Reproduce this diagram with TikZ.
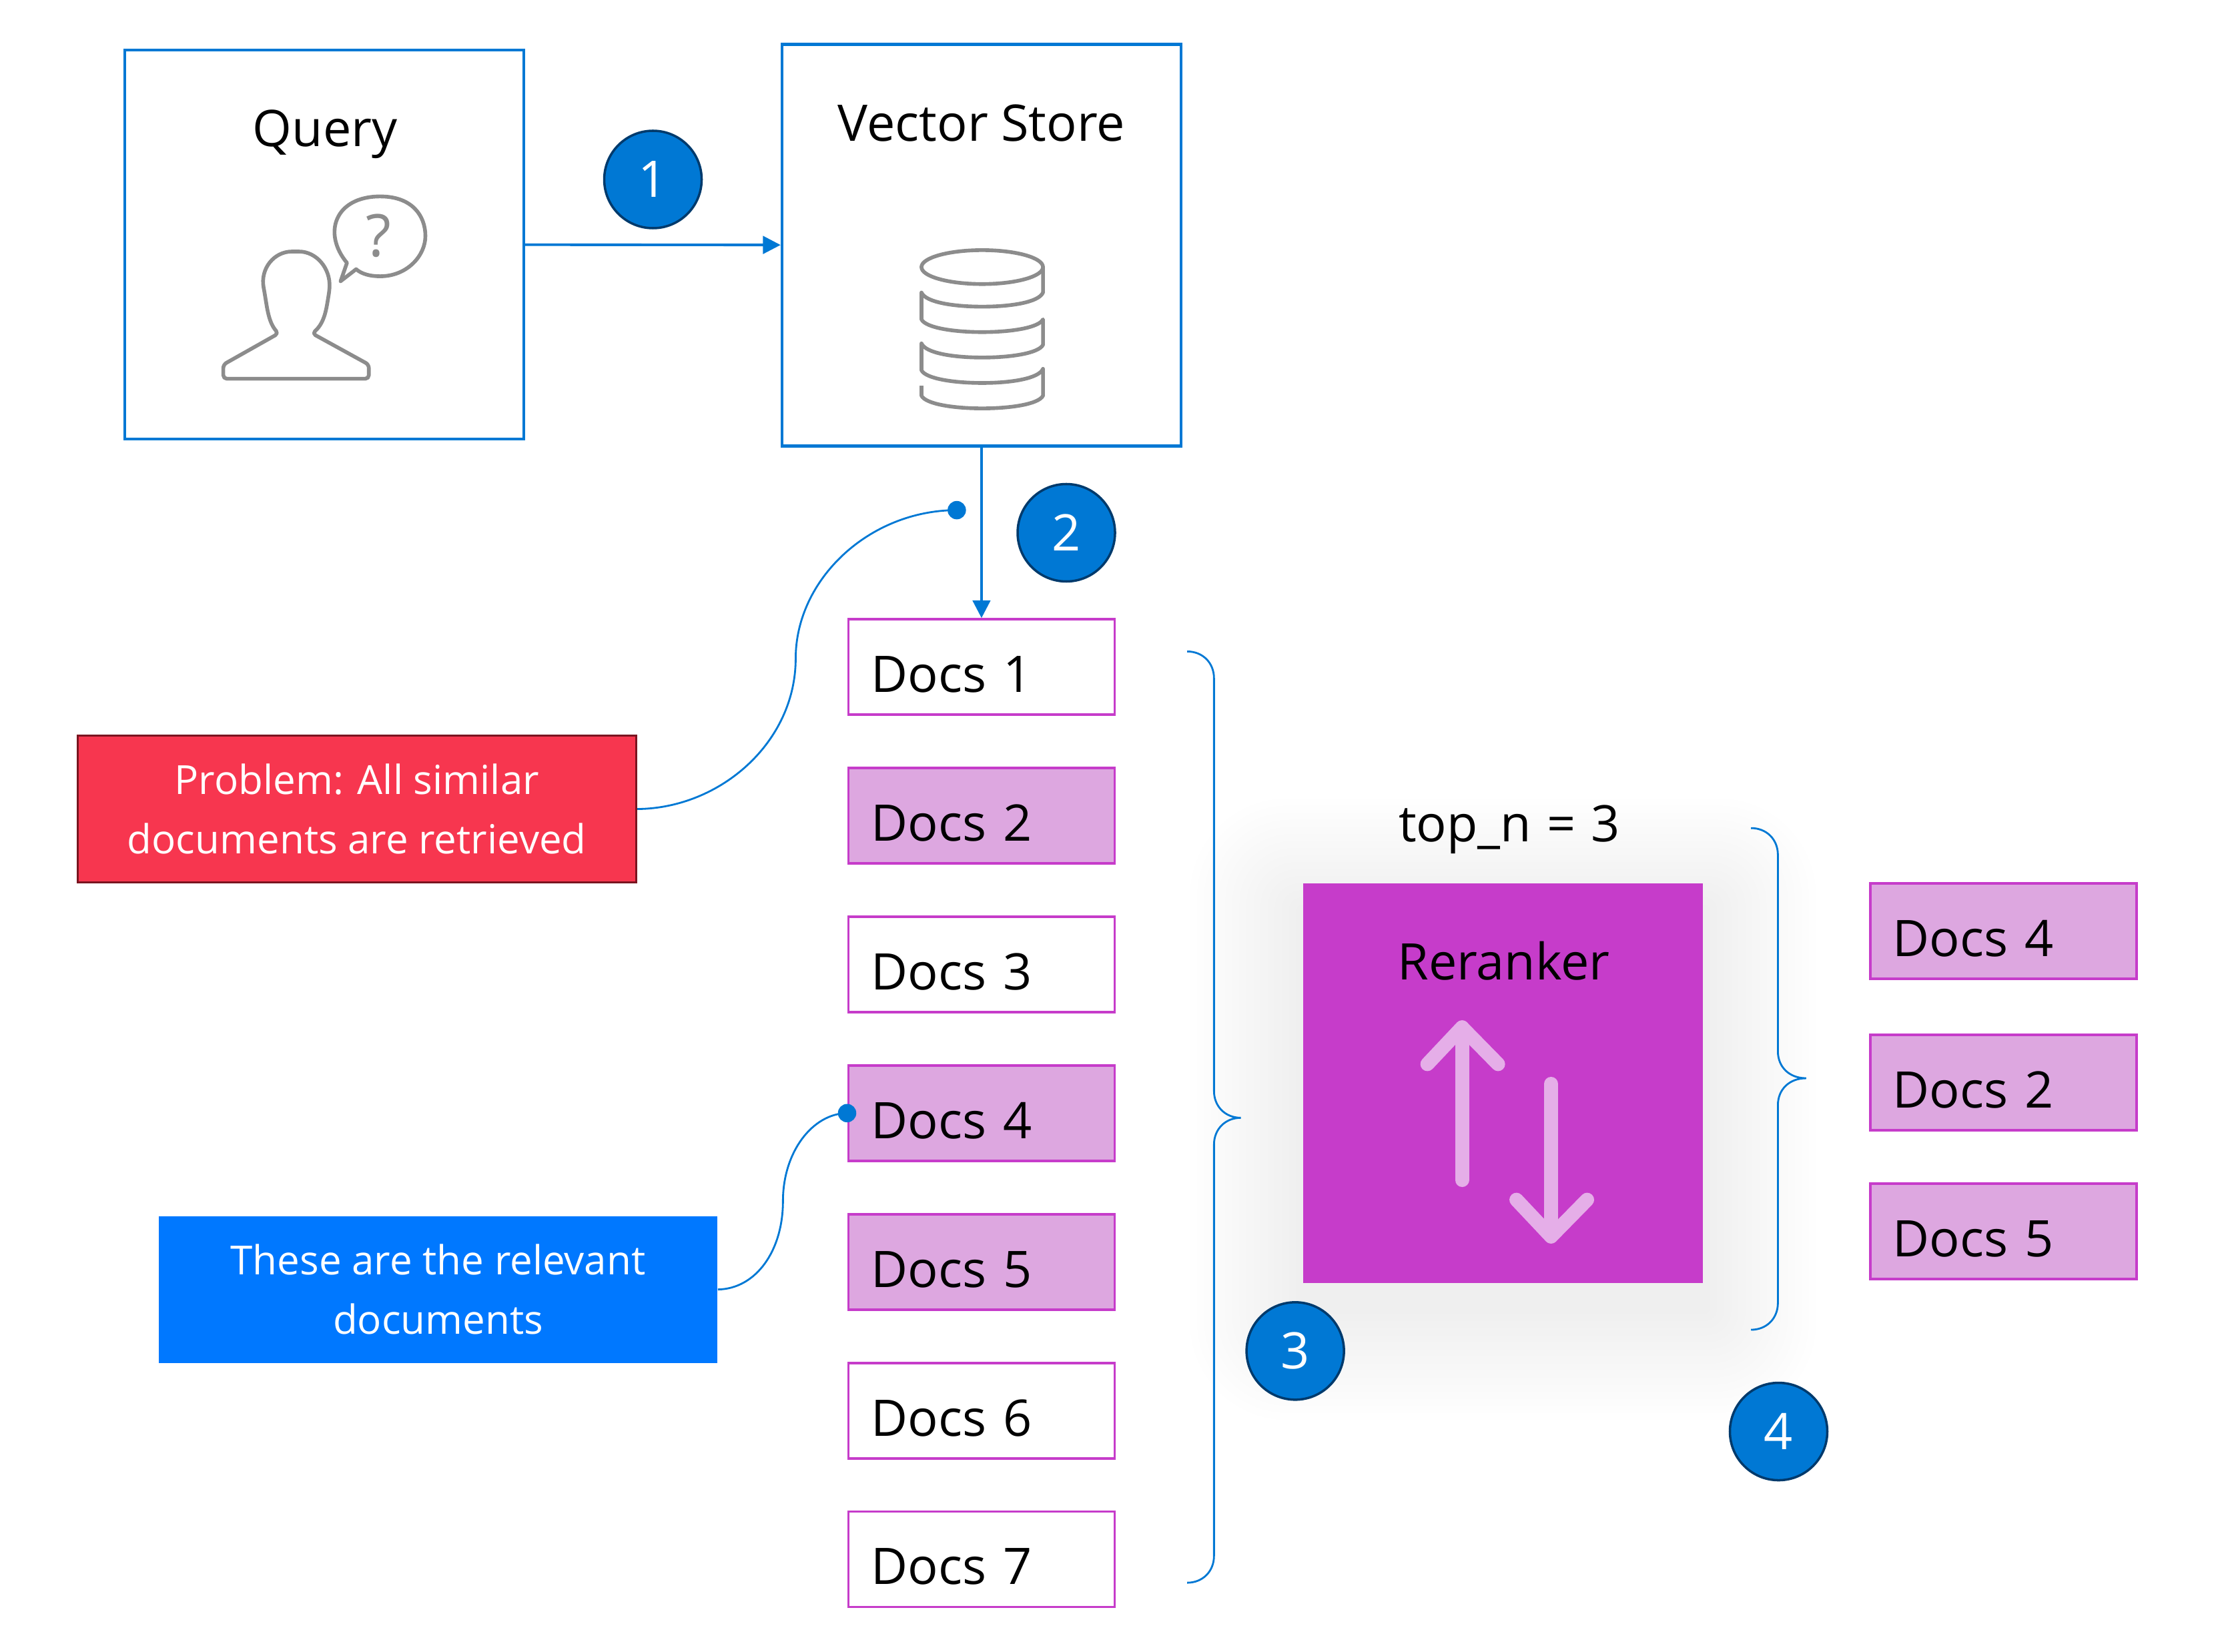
\documentclass[tikz,border=0pt]{standalone}
\usepackage{fontspec}
\setmainfont{Open Sans}
\usetikzlibrary{arrows.meta,positioning,calc}
\definecolor{azure}{HTML}{0078D4}
\definecolor{azuredark}{HTML}{003A6C}
\definecolor{orchid}{HTML}{C63CCA}
\definecolor{orchidlight}{HTML}{DDA7E0}
\definecolor{arrowlight}{HTML}{E5AEE8}
\definecolor{alertred}{HTML}{F7364F}
\definecolor{alertdark}{HTML}{7A1420}
\definecolor{noteblue}{HTML}{0078FF}
\definecolor{icongray}{HTML}{8C8C8C}
\newcommand{\bigtext}{\fontsize{21.5}{26}\selectfont}
\newcommand{\boxtext}{\fontsize{17.1}{25.2}\selectfont}

\begin{document}
\begin{tikzpicture}[x=0.02118cm, y=-0.02118cm, font=\bigtext,
    panel/.style={draw=azure, line width=1.2pt, fill=white, minimum width=5.98cm, inner sep=0pt},
    docbox/.style={draw=orchid, line width=1.1pt, fill=white, minimum width=3.99cm, minimum height=1.43cm, inner xsep=0.34cm, inner ysep=0pt, text width=3.31cm, align=left, text height=0.76cm, text depth=0pt},
    docpick/.style={docbox, fill=orchidlight},
    badge/.style={circle, draw=azuredark, line width=1pt, fill=azure, text=white, minimum size=1.46cm, inner sep=0pt},
    notebox/.style={minimum width=8.37cm, minimum height=2.2cm, text=white, align=center, font=\boxtext, inner sep=0pt},
    link/.style={azure, line width=1.1pt, -{Triangle[length=7.5pt,width=7.5pt]}},
    thinline/.style={azure, line width=0.8pt},
    icon/.style={icongray, line width=1.6pt, line join=round},
    swap/.style={arrowlight, line width=6pt, line cap=round, line join=round}]
  \useasboundingbox (0,0) rectangle (1568,1169);

  \node[panel, minimum height=5.83cm] (query) at (229.5,173) {};
  \node[panel, minimum height=6.02cm] (store) at (694.5,173.5) {};
  \node (querytitle) at (230,95) {Query};
  \node (storetitle) at (694.5,87) {Vector Store};

  \draw[icon, rounded corners=1.5pt] (197,236) .. controls (190,228) and (189,218) .. (187,206) .. controls (184,190) and (194,178) .. (209,178) .. controls (224,178) and (234,190) .. (233,206) .. controls (231,218) and (230,228) .. (221,236) -- (261,258) -- (261,268) -- (158,268) -- (158,258) -- cycle;
  \draw[icon] (245.5,186) .. controls (228,165) and (237,139) .. (269,139) .. controls (292,139) and (301,153) .. (301,167) .. controls (301,181) and (288,195.5) .. (269,195.5) .. controls (262,195.5) and (256,194) .. (252,190.5) -- (241,199) -- cycle;
  \node[text=icongray, font=\fontsize{25}{28}\selectfont, inner sep=0pt] (askmark) at (268,167) {?};

  \draw[icon] (695,189) ellipse (43 and 12);
  \draw[icon] (738,189) -- (738,207) .. controls (735,214) and (715,217) .. (695,217) .. controls (675,217) and (655,214) .. (652,207)
    -- (652,226) .. controls (655,232) and (675,235) .. (695,235) .. controls (715,235) and (735,232) .. (738,226)
    -- (738,244) .. controls (735,250) and (715,253) .. (695,253) .. controls (675,253) and (655,250) .. (652,243)
    -- (652,262) .. controls (655,268) and (675,271) .. (695,271) .. controls (715,271) and (735,268) .. (738,261)
    -- (738,280) .. controls (735,286) and (715,289) .. (695,289) .. controls (675,289) and (655,286) .. (652,280) -- (652,273);

  \node[docbox] (docA) at (694.5,472) {Docs 1};
  \node[docpick, below=0.76cm of docA] (docB) {Docs 2};
  \node[docbox, below=0.76cm of docB] (docC) {Docs 3};
  \node[docpick, below=0.76cm of docC] (docD) {Docs 4};
  \node[docpick, below=0.76cm of docD] (docE) {Docs 5};
  \node[docbox, below=0.76cm of docE] (docF) {Docs 6};
  \node[docbox, below=0.76cm of docF] (docG) {Docs 7};

  \foreach \i in {1,...,16} {
    \fill[black, opacity=0.0045, rounded corners=\i*2.6pt] (922-\i*5,645-\i*5) rectangle (1205+\i*5,925+\i*5);
  }
  \node[fill=orchid, minimum size=5.99cm, inner sep=0pt] (rerank) at (1063.5,766.5) {};
  \node (ranktitle) at (1064,680) {Reranker};
  \node (topn) at (1068,587) {top\_n \hspace{1pt}= \hspace{1pt}3};
  \draw[swap] (1034.5,835) -- (1034.5,727);
  \draw[swap] (1010,753) -- (1034.5,727) -- (1060,753);
  \draw[swap] (1097.5,767) -- (1097.5,875);
  \draw[swap] (1073,849) -- (1097.5,875) -- (1123,849);

  \node[docpick] (pickA) at (1417.5,659) {Docs 4};
  \node[docpick, below=0.8cm of pickA] (pickB) {Docs 2};
  \node[docpick, below=0.76cm of pickB] (pickC) {Docs 5};

  \node[notebox, fill=alertred, draw=alertdark, line width=1pt] (problem) at (252.5,572.5) {Problem: All similar\\documents are retrieved};
  \node[notebox, fill=noteblue] (relevant) at (310,912.5) {These are the relevant\\documents};

  \node[badge] (one) at (462,127) {1};
  \node[badge] (two) at (754.5,377) {2};
  \node[badge] (three) at (916.5,956) {3};
  \node[badge] (four) at (1258.5,1013) {4};

  \coordinate (dotend) at (677,361);
  \draw[link] (query) -- (store);
  \draw[link] (store) -- (docA);
  \draw[thinline] (problem.east) .. controls (510,572) and (563,525) .. (563,466) .. controls (563,410) and (615,361) .. (dotend);
  \draw[thinline] (relevant.east) .. controls (535,912) and (554,885) .. (554,850) .. controls (554,815) and (575,788) .. (docD.west);
  \fill[azure] (dotend) circle (6.5);
  \fill[azure] (docD.west) circle (6.5);

  \draw[thinline] (840,461) .. controls (851,461) and (859,469) .. (859,480) -- (859,772) .. controls (859,783) and (867,791) .. (878,791) .. controls (867,791) and (859,799) .. (859,810) -- (859,1101) .. controls (859,1112) and (851,1120) .. (840,1120);
  \draw[thinline] (1239,586) .. controls (1250,586) and (1258,594) .. (1258,605) -- (1258,744) .. controls (1258,755) and (1266,763) .. (1278,763) .. controls (1266,763) and (1258,771) .. (1258,782) -- (1258,922) .. controls (1258,933) and (1250,941) .. (1239,941);
\end{tikzpicture}
\end{document}
